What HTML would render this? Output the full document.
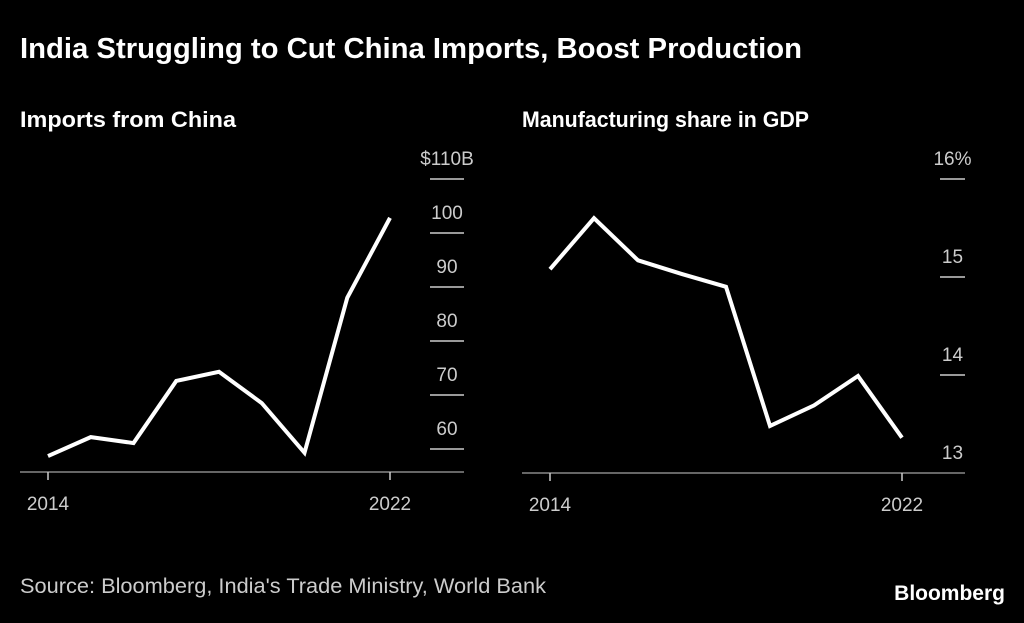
<!DOCTYPE html>
<html><head><meta charset="utf-8"><style>
body{margin:0;background:#000;width:1024px;height:618px;overflow:hidden;font-family:"Liberation Sans",sans-serif;}
svg text{font-family:"Liberation Sans",sans-serif;}
</style></head><body>
<svg width="1024" height="618">
<text x="20" y="58" fill="#fff" font-size="29" font-weight="bold" textLength="782" lengthAdjust="spacingAndGlyphs">India Struggling to Cut China Imports, Boost Production</text>
<text x="20" y="127" fill="#fff" font-size="22" font-weight="bold" textLength="216" lengthAdjust="spacingAndGlyphs">Imports from China</text>
<text x="522" y="127" fill="#fff" font-size="22" font-weight="bold" textLength="287" lengthAdjust="spacingAndGlyphs">Manufacturing share in GDP</text>
<g id="left"></g>
<g id="right"></g>
<text x="20" y="593" fill="#ccc" font-size="21" textLength="526" lengthAdjust="spacingAndGlyphs">Source: Bloomberg, India's Trade Ministry, World Bank</text>
<text x="1005" y="600" fill="#fff" font-size="21" font-weight="bold" text-anchor="end">Bloomberg</text>
</svg>
<script>
const years=[2014,2015,2016,2017,2018,2019,2020,2021,2022];
const xLabels=["2014","2022"];
const importsVals=[58.7,62.2,61.1,72.6,74.3,68.5,59.3,88.0,102.8];
const importsTicks=[60,70,80,90,100,110];
const importsTickLabels=["60","70","80","90","100","$110B"];
const mfgVals=[15.08,15.60,15.17,15.03,14.90,13.48,13.69,13.99,13.36];
const mfgTicks=[14,15,16];
const mfgTickLabels=["14","15","16%"];
const NS="http://www.w3.org/2000/svg";
function mk(p,t,a){const e=document.createElementNS(NS,t);for(const k in a)e.setAttribute(k,a[k]);p.appendChild(e);return e;}
function panel(g,vals,ticks,labels,x0,x1,yMin,yTop,vMin,vMax,tx0,tx1,axisY,axisX0,extraLabel){
 const xs=i=>x0+(x1-x0)*i/(years.length-1);
 const ys=v=>yMin-(v-vMin)*(yMin-yTop)/(vMax-vMin);
 const ax=mk(g,'line',{x1:axisX0,x2:tx1,y1:axisY,y2:axisY,stroke:'#888','stroke-width':1.5});
 
 
 ticks.forEach((t,i)=>{
  const y=ys(t);
  const l=mk(g,'line',{x1:tx0,x2:tx1,y1:y,y2:y,stroke:'#ccc','stroke-width':1.5});
  
  
  const tt=mk(g,'text',{x:(tx0+tx1)/2,y:y-14,fill:'#ccc','font-size':19,'text-anchor':'middle'});
  tt.textContent=labels[i];
  
  
 });
 if(extraLabel){const tt=mk(g,'text',{x:(tx0+tx1)/2,y:axisY-14,fill:'#ccc','font-size':19,'text-anchor':'middle'});tt.textContent=extraLabel;
  
  }
 [0,years.length-1].forEach((i,k)=>{
  const x=xs(i);
  const l=mk(g,'line',{x1:x,x2:x,y1:axisY,y2:axisY+8,stroke:'#ccc','stroke-width':1.5});
  
  
  const tt=mk(g,'text',{x:x,y:axisY+38,fill:'#ccc','font-size':19,'text-anchor':'middle'});
  tt.textContent=xLabels[k];
  
  
 });
 const p=mk(g,'polyline',{points:vals.map((v,i)=>xs(i)+','+ys(v)).join(' '),fill:'none',stroke:'#fff','stroke-width':4,'stroke-linejoin':'miter'});
 
 
}
panel(document.getElementById('left'),importsVals,importsTicks,importsTickLabels,48,390,449,179,60,110,430,464,472,20,null);
panel(document.getElementById('right'),mfgVals,mfgTicks,mfgTickLabels,550,902,375,179,14,16,940,965,473,522,"13");
</script>
</body></html>
